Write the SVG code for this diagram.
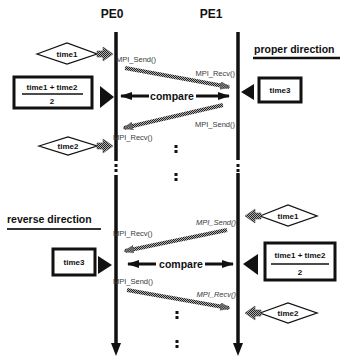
<svg xmlns="http://www.w3.org/2000/svg" width="343" height="358" viewBox="0 0 343 358">
<style>
  .head{font-family:"Liberation Sans",Arial,sans-serif;font-weight:bold;font-size:12px;fill:#111}
  .lbl{font-family:"Liberation Sans",Arial,sans-serif;font-size:7.5px;fill:#3a3a3a}
  .tb{font-family:"Liberation Sans",Arial,sans-serif;font-weight:bold;font-size:8px;fill:#111}
  .cmp{font-family:"Liberation Sans",Arial,sans-serif;font-weight:bold;font-size:10.5px;fill:#111}
  .dir{font-family:"Liberation Sans",Arial,sans-serif;font-weight:bold;font-size:10.5px;fill:#111}
  .life{stroke:#111;stroke-width:3.5;fill:none}
  .msg{stroke:url(#hatch);stroke-width:4;fill:none}
  .cmpl{stroke:#111;stroke-width:3}
  .dia{fill:#fff;stroke:#111;stroke-width:1.3}
  .box{fill:#fff;stroke:#111;stroke-width:3}
  .hat{fill:url(#hatch);stroke:#555;stroke-width:0.6}
  .tri{fill:#111}
  .dot{fill:#111}
</style>
<defs>
  <pattern id="hatch" width="2" height="2" patternUnits="userSpaceOnUse">
    <rect width="2" height="2" fill="#b0b0b0"/>
    <rect width="1" height="1" fill="#222"/>
    <rect x="1" y="1" width="1" height="1" fill="#222"/>
  </pattern>
  <marker id="mh" markerWidth="10" markerHeight="8" refX="9" refY="4" orient="auto" markerUnits="userSpaceOnUse">
    <path d="M0,0 L10,4 L0,8 Z" fill="url(#hatch)" stroke="#555" stroke-width="0.5"/>
  </marker>
  <marker id="ca" markerWidth="12" markerHeight="8" refX="11" refY="4" orient="auto-start-reverse" markerUnits="userSpaceOnUse">
    <path d="M0,0 L12,4 L0,8 Z" fill="#111"/>
  </marker>
</defs>

<g id="PE0">
  <text class="head" x="112" y="18" text-anchor="middle">PE0</text>
  <line class="life" x1="116" y1="32" x2="116" y2="161"/>
  <rect class="dot" x="114.5" y="164" width="3" height="3"/>
  <rect class="dot" x="114.5" y="169" width="3" height="3"/>
  <line class="life" x1="116" y1="175" x2="116" y2="344"/>
  <path d="M111,343 L121,343 L116,356 Z" class="tri"/>
</g>

<g id="PE1">
  <text class="head" x="211" y="18" text-anchor="middle">PE1</text>
  <line class="life" x1="238" y1="32" x2="238" y2="160"/>
  <rect class="dot" x="236.5" y="164" width="3" height="3"/>
  <rect class="dot" x="236.5" y="169" width="3" height="3"/>
  <line class="life" x1="238" y1="173" x2="238" y2="344"/>
  <path d="M233,343 L243,343 L238,356 Z" class="tri"/>
</g>

<g id="proper-direction">
  <text class="dir" x="254" y="53">proper direction</text>
  <line x1="253" y1="58" x2="340" y2="58" stroke="#111" stroke-width="2.5"/>
</g>

<g id="reverse-direction">
  <text class="dir" x="7" y="223">reverse direction</text>
  <line x1="7" y1="229" x2="101" y2="229" stroke="#333" stroke-width="2"/>
</g>

<g id="top-time1">
  <polygon class="dia" points="37,54 67,43 97,54 67,64"/>
  <text class="tb" x="67" y="57" text-anchor="middle">time1</text>
  <polygon class="hat" points="97,51 103,51 103,47 113,54 103,61 103,57 97,57"/>
</g>

<g id="top-avg">
  <rect class="box" x="14" y="77" width="78" height="31"/>
  <text class="tb" x="52" y="90" text-anchor="middle" font-size="8.5">time1 + time2</text>
  <line x1="22" y1="94" x2="83" y2="94" stroke="#111" stroke-width="1.3"/>
  <text class="tb" x="52" y="104" text-anchor="middle">2</text>
  <polygon class="tri" points="100,86 100,108 114,97"/>
</g>

<g id="top-time2">
  <polygon class="dia" points="39,146 68,137 97,146 68,155"/>
  <text class="tb" x="68" y="149" text-anchor="middle">time2</text>
  <polygon class="hat" points="97,143 103,143 103,139 113,146 103,153 103,149 97,149"/>
</g>

<g id="top-time3">
  <rect class="box" x="259" y="78" width="42" height="24"/>
  <text class="tb" x="280" y="93" text-anchor="middle">time3</text>
  <polygon class="tri" points="254,84 254,100 241,92"/>
</g>

<g id="bot-time1">
  <polygon class="dia" points="260,216 288,205 317,216 288,226"/>
  <text class="tb" x="288" y="219" text-anchor="middle">time1</text>
  <polygon class="hat" points="261,213 255,213 255,209 245,216 255,223 255,219 261,219"/>
</g>

<g id="bot-avg">
  <rect class="box" x="265" y="243" width="70" height="37"/>
  <text class="tb" x="300" y="258" text-anchor="middle">time1 + time2</text>
  <line x1="271" y1="264" x2="329" y2="264" stroke="#111" stroke-width="1.3"/>
  <text class="tb" x="300" y="275" text-anchor="middle">2</text>
  <polygon class="tri" points="258,254 258,275 243,264"/>
</g>

<g id="bot-time2">
  <polygon class="dia" points="260,313 288,303 317,313 288,323"/>
  <text class="tb" x="288" y="316" text-anchor="middle">time2</text>
  <polygon class="hat" points="261,310 255,310 255,306 245,313 255,320 255,316 261,316"/>
</g>

<g id="bot-time3">
  <rect class="box" x="53" y="249" width="42" height="26"/>
  <text class="tb" x="74" y="265" text-anchor="middle">time3</text>
  <polygon class="tri" points="98,256 98,274 112,265"/>
</g>

<g id="ellipses">
  <rect class="dot" x="174.5" y="145" width="3" height="3"/>
  <rect class="dot" x="174.5" y="150" width="3" height="3"/>
  <rect class="dot" x="174.5" y="173" width="3" height="3"/>
  <rect class="dot" x="174.5" y="178" width="3" height="3"/>
  <rect class="dot" x="175.5" y="311" width="3" height="3"/>
  <rect class="dot" x="175.5" y="316" width="3" height="3"/>
  <rect class="dot" x="175.5" y="340" width="3" height="3"/>
  <rect class="dot" x="175.5" y="345" width="3" height="3"/>
</g>

<g id="connectors">
  <line class="msg" x1="125" y1="68" x2="229" y2="87" marker-end="url(#mh)"/>
  <line class="msg" x1="223" y1="105" x2="124" y2="128" marker-end="url(#mh)"/>
  <line class="msg" x1="227" y1="230" x2="125" y2="251" marker-end="url(#mh)"/>
  <line class="msg" x1="127" y1="290" x2="229" y2="308" marker-end="url(#mh)"/>
  <line class="cmpl" x1="121" y1="96" x2="149" y2="96" marker-start="url(#ca)"/>
  <line class="cmpl" x1="196" y1="96" x2="229" y2="96" marker-end="url(#ca)"/>
  <line class="cmpl" x1="128" y1="264" x2="156" y2="264" marker-start="url(#ca)"/>
  <line class="cmpl" x1="205" y1="264" x2="233" y2="264" marker-end="url(#ca)"/>
</g>

<g id="labels">
  <text class="lbl" x="116" y="62">MPI_Send()</text>
  <text class="lbl" x="235" y="76" text-anchor="end">MPI_Recv()</text>
  <text class="cmp" x="172" y="100" text-anchor="middle">compare</text>
  <text class="lbl" x="235" y="127" text-anchor="end">MPI_Send()</text>
  <text class="lbl" x="113" y="140">MPI_Recv()</text>
  <text class="lbl" x="236" y="225" text-anchor="end" font-style="italic">MPI_Send()</text>
  <text class="lbl" x="113" y="236">MPI_Recv()</text>
  <text class="cmp" x="181" y="268" text-anchor="middle">compare</text>
  <text class="lbl" x="113" y="284">MPI_Send()</text>
  <text class="lbl" x="236" y="297" text-anchor="end" font-style="italic">MPI_Recv()</text>
</g>
</svg>
